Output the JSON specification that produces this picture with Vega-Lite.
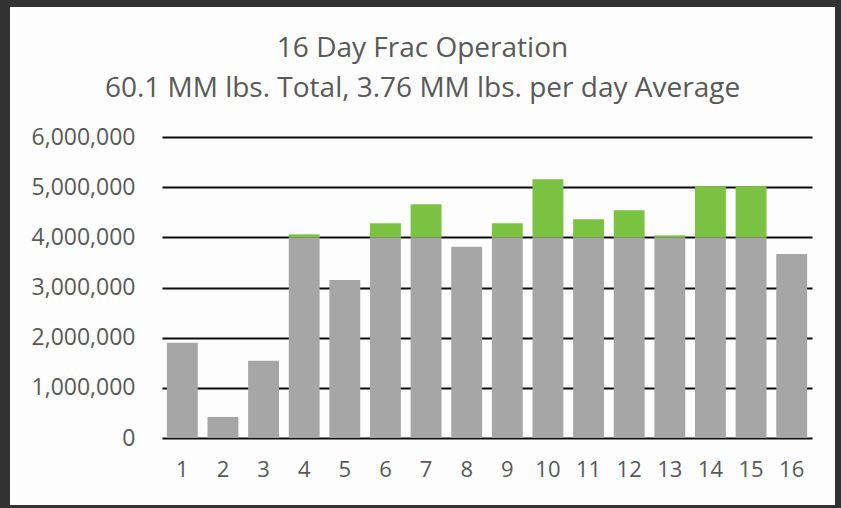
{
  "$schema": "https://vega.github.io/schema/vega-lite/v6.json",
  "width": 825,
  "height": 498,
  "autosize": "none",
  "padding": {"left": 10, "top": 7, "right": 6, "bottom": 3},
  "background": "#323232",
  "config": {
    "view": {"fill": "#fdfdfd", "stroke": null},
    "font": "Open Sans"
  },
  "title": {
    "text": ["16 Day Frac Operation", "60.1 MM lbs. Total, 3.76 MM lbs. per day Average"],
    "fontSize": 28,
    "fontWeight": "normal",
    "color": "#595959",
    "anchor": "middle",
    "lineHeight": 40,
    "baseline": "bottom",
    "offset": -124
  },
  "data": {
    "values": [
      {"day": 1, "part": "base", "value": 1900000},
      {"day": 2, "part": "base", "value": 420000},
      {"day": 3, "part": "base", "value": 1540000},
      {"day": 4, "part": "base", "value": 4000000},
      {"day": 4, "part": "excess", "value": 60000},
      {"day": 5, "part": "base", "value": 3150000},
      {"day": 6, "part": "base", "value": 4000000},
      {"day": 6, "part": "excess", "value": 280000},
      {"day": 7, "part": "base", "value": 4000000},
      {"day": 7, "part": "excess", "value": 660000},
      {"day": 8, "part": "base", "value": 3810000},
      {"day": 9, "part": "base", "value": 4000000},
      {"day": 9, "part": "excess", "value": 280000},
      {"day": 10, "part": "base", "value": 4000000},
      {"day": 10, "part": "excess", "value": 1160000},
      {"day": 11, "part": "base", "value": 4000000},
      {"day": 11, "part": "excess", "value": 360000},
      {"day": 12, "part": "base", "value": 4000000},
      {"day": 12, "part": "excess", "value": 540000},
      {"day": 13, "part": "base", "value": 4000000},
      {"day": 13, "part": "excess", "value": 40000},
      {"day": 14, "part": "base", "value": 4000000},
      {"day": 14, "part": "excess", "value": 1020000},
      {"day": 15, "part": "base", "value": 4000000},
      {"day": 15, "part": "excess", "value": 1020000},
      {"day": 16, "part": "base", "value": 3670000}
    ]
  },
  "mark": {"type": "bar"},
  "encoding": {
    "x": {
      "field": "day",
      "type": "ordinal",
      "scale": {"range": [152, 802], "paddingInner": 0.24, "paddingOuter": 0.12},
      "axis": {
        "title": null,
        "labelAngle": 0,
        "domain": false,
        "ticks": false,
        "labelPadding": -46,
        "labelFontSize": 22,
        "labelColor": "#595959"
      }
    },
    "y": {
      "field": "value",
      "type": "quantitative",
      "stack": "zero",
      "scale": {"domain": [0, 6000000], "range": [431, 130], "nice": false, "zero": true},
      "axis": {
        "title": null,
        "values": [0, 1000000, 2000000, 3000000, 4000000, 5000000, 6000000],
        "format": ",.0f",
        "grid": true,
        "gridColor": "#0d0d0d",
        "gridWidth": 2,
        "gridOpacity": 1,
        "domain": false,
        "ticks": false,
        "labelPadding": -125,
        "labelFontSize": 23,
        "labelColor": "#595959",
        "labelBaseline": "middle"
      }
    },
    "color": {
      "field": "part",
      "type": "nominal",
      "scale": {"domain": ["base", "excess"], "range": ["#a6a6a6", "#7cc242"]},
      "legend": null
    },
    "order": {"field": "part", "sort": "ascending"}
  }
}
